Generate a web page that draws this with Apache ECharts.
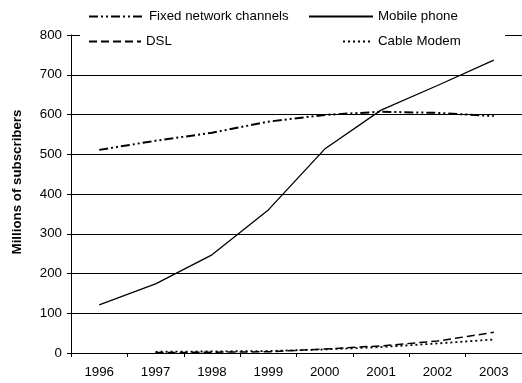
<!DOCTYPE html>
<html>
<head>
<meta charset="utf-8">
<script src="https://cdn.jsdelivr.net/npm/echarts@6/dist/echarts.min.js"></script>
<style>html,body{margin:0;padding:0;background:#fff}#c{width:522px;height:383px}</style>
</head>
<body>
<div id="c"></div>
<script>
const years = ['1996','1997','1998','1999','2000','2001','2002','2003'];
const fixedNetwork = [511, 534, 554, 582, 599, 607, 604, 596];
const mobilePhone = [121, 174, 247, 360, 513, 611, 673, 737];
const dsl = [null, 1, 2, 3, 10, 18, 30, 52];
const cableModem = [null, 3, 4, 5, 9, 15, 24, 34];
const yTicks = [0, 100, 200, 300, 400, 500, 600, 700, 800];

const FONT = 'Liberation Sans, Arial, sans-serif';
const FS = 13.3;
const chart = echarts.init(document.getElementById('c'), null, {renderer: 'canvas'});
const styles = {
  'Fixed network channels': {type: [9, 3, 2, 3, 2, 3], width: 2},
  'Mobile phone': {type: 'solid', width: 1.3},
  'DSL': {type: [8, 4], width: 1.5},
  'Cable Modem': {type: [2, 3], width: 1.8}
};
const seriesData = [
  ['Fixed network channels', fixedNetwork],
  ['Mobile phone', mobilePhone],
  ['DSL', dsl],
  ['Cable Modem', cableModem]
];
function makeLegend(name, left, top, w) {
  return {
    show: true, data: [name], left: left, top: top, itemWidth: w, itemHeight: 10, itemGap: 0,
    padding: 0, z: 5, orient: 'horizontal',
    itemStyle: {opacity: 0},
    textStyle: {fontFamily: FONT, fontSize: FS, color: '#000'}
  };
}
chart.setOption({
  animation: false,
  backgroundColor: '#fff',
  graphic: [{type: 'rect', shape: {x: 80, y: 4, width: 425, height: 48}, style: {fill: '#fff'}, z: 3}],
  legend: [
    makeLegend('Fixed network channels', 88, 10, 55),
    makeLegend('Mobile phone', 308, 10, 64),
    makeLegend('DSL', 88, 35, 52),
    makeLegend('Cable Modem', 342, 35, 30)
  ],
  grid: {left: 71, right: 0, top: 35, bottom: 30, containLabel: false},
  xAxis: {
    type: 'category', data: years, boundaryGap: true,
    axisLine: {lineStyle: {color: '#000', width: 1}},
    axisTick: {show: true, length: 4, inside: false, lineStyle: {color: '#000'}},
    axisLabel: {fontFamily: FONT, fontSize: FS, color: '#000', margin: 13},
    splitLine: {show: false}
  },
  yAxis: {
    type: 'value', min: yTicks[0], max: yTicks[yTicks.length - 1], interval: 100,
    name: 'Millions of subscribers', nameLocation: 'middle', nameGap: 47,
    nameTextStyle: {fontFamily: FONT, fontSize: FS, fontWeight: 'bold', color: '#000', padding: [0, 0, 0, 24]},
    axisLine: {show: true, lineStyle: {color: '#000', width: 1}},
    axisTick: {show: true, length: 4, lineStyle: {color: '#000'}},
    axisLabel: {fontFamily: FONT, fontSize: FS, color: '#000', margin: 9},
    splitLine: {show: true, lineStyle: {color: '#000', width: 1}}
  },
  series: seriesData.map(([name, data]) => ({
    name: name, type: 'line', data: data, showSymbol: false, symbol: 'none',
    connectNulls: false, z: 2,
    lineStyle: {color: '#000', width: styles[name].width, type: styles[name].type},
    itemStyle: {color: '#000'}
  }))
});
</script>
</body>
</html>
